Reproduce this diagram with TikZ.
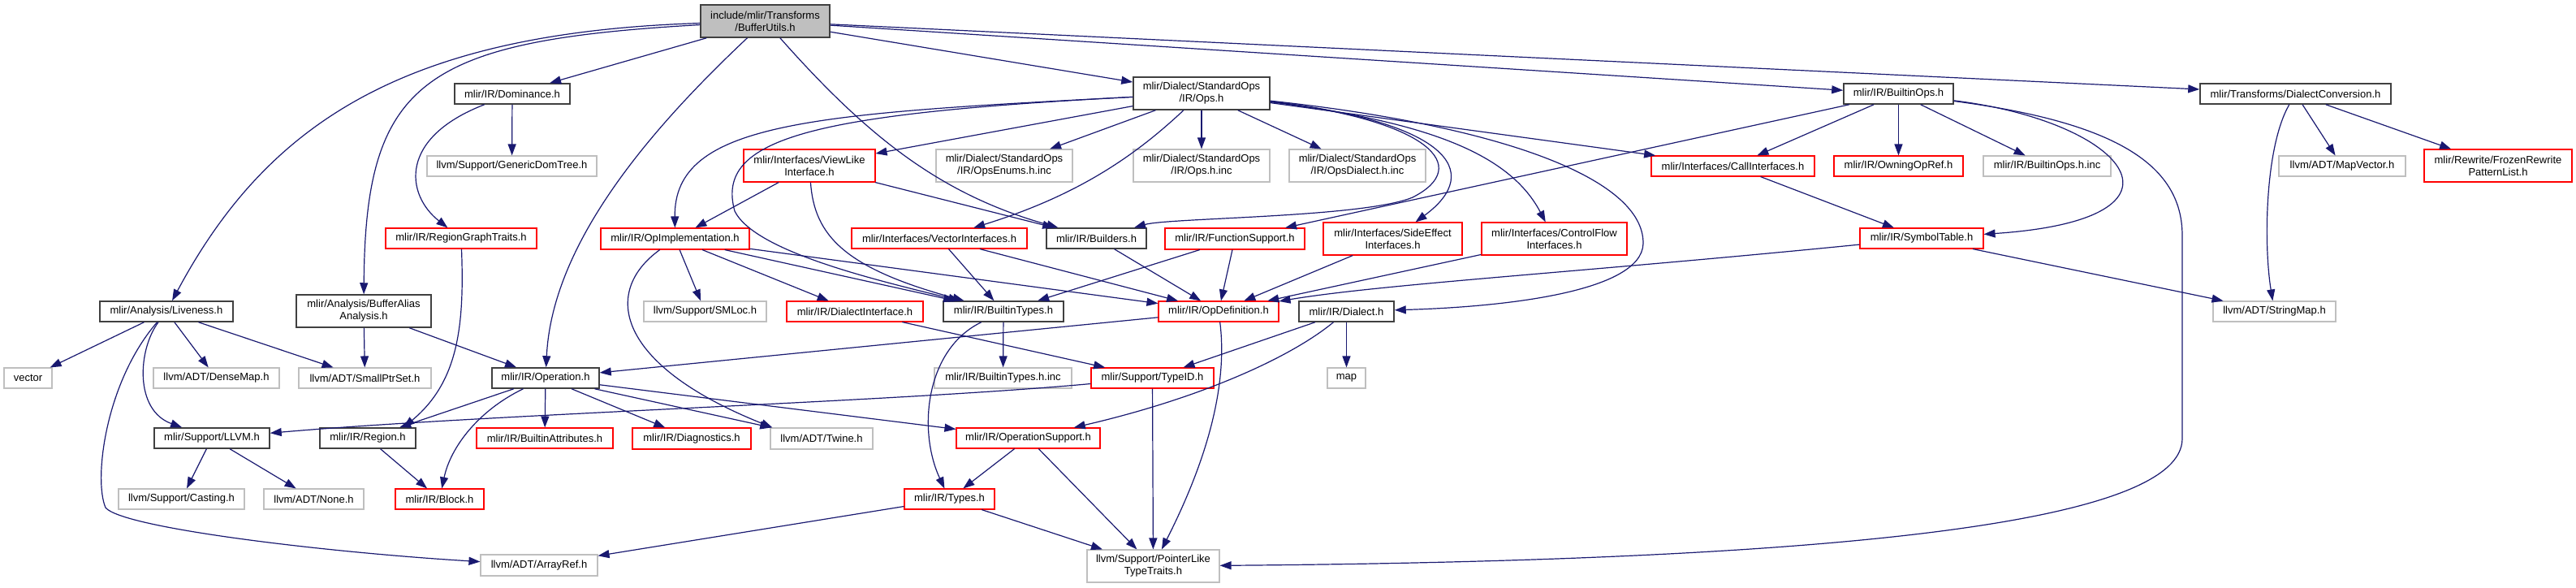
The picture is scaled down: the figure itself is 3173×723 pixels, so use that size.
\documentclass[tikz,border=0pt]{standalone}
\usepackage{fontspec}
\setmainfont{Liberation Sans}
\usepackage{tikz}
\usetikzlibrary{arrows.meta}
\definecolor{edgeblue}{RGB}{25,25,112}
\definecolor{boxgray}{RGB}{191,191,191}
\definecolor{boxblack}{RGB}{64,64,64}

\begin{document}
\begin{tikzpicture}[x=1pt,y=1pt]
\tikzstyle{every node}=[draw,shape=rectangle,inner sep=0pt,minimum height=25pt,align=center,font=\fontsize{13}{15}\selectfont];
\tikzstyle{blackbox}=[draw=boxblack,line width=1.5pt];
\tikzstyle{redbox}=[draw=red,line width=1.1pt];
\tikzstyle{graybox}=[draw=boxgray,line width=1.1pt];
\tikzstyle{dep}=[edgeblue,line width=1.2pt,-{Triangle[length=14pt,width=10pt]}];
\useasboundingbox (0,0) rectangle (3173,-723);

\node[blackbox,fill=boxgray,minimum width=159pt,minimum height=40pt](BU) at(942.5,-26){include/mlir/Transforms\\/BufferUtils.h};

\node[blackbox,minimum width=142pt](DOM) at(631,-115.5){mlir/IR/Dominance.h};
\node[graybox,minimum width=209pt](GDT) at(630.5,-204.5){llvm/Support/GenericDomTree.h};
\node[redbox,minimum width=186pt](RGT) at(568,-293.5){mlir/IR/RegionGraphTraits.h};
\node[blackbox,minimum width=164pt](LIV) at(205,-383.5){mlir/Analysis/Liveness.h};
\node[blackbox,minimum width=166pt,minimum height=40pt](BAA) at(448,-383){mlir/Analysis/BufferAlias\\Analysis.h};
\node[graybox,minimum width=59pt](VEC) at(34.5,-465.5){vector};
\node[graybox,minimum width=155pt](DM) at(266.5,-465.5){llvm/ADT/DenseMap.h};
\node[graybox,minimum width=163pt](SPS) at(449.5,-465.5){llvm/ADT/SmallPtrSet.h};
\node[blackbox,minimum width=132pt](OP) at(672,-465.5){mlir/IR/Operation.h};
\node[blackbox,minimum width=142pt](LLVM) at(261,-539.5){mlir/Support/LLVM.h};
\node[blackbox,minimum width=118pt](REG) at(453,-539.5){mlir/IR/Region.h};
\node[redbox,minimum width=168pt](BA) at(671,-539.5){mlir/IR/BuiltinAttributes.h};
\node[graybox,minimum width=155pt](CAST) at(223.5,-614.5){llvm/Support/Casting.h};
\node[graybox,minimum width=123pt](NONE) at(386.5,-614.5){llvm/ADT/None.h};
\node[redbox,minimum width=109pt](BLK) at(541.5,-614.5){mlir/IR/Block.h};
\node[graybox,minimum width=144pt,minimum height=26pt](AR) at(664,-696){llvm/ADT/ArrayRef.h};

\node[blackbox,minimum width=168pt,minimum height=40pt](OPS) at(1480,-115){mlir/Dialect/StandardOps\\/IR/Ops.h};
\node[redbox,minimum width=162pt,minimum height=40pt](VL) at(997,-204){mlir/Interfaces/ViewLike\\Interface.h};
\node[graybox,minimum width=168pt,minimum height=40pt](OE) at(1237,-204){mlir/Dialect/StandardOps\\/IR/OpsEnums.h.inc};
\node[graybox,minimum width=168pt,minimum height=40pt](OHI) at(1480,-204){mlir/Dialect/StandardOps\\/IR/Ops.h.inc};
\node[graybox,minimum width=168pt,minimum height=40pt](ODI) at(1672,-204){mlir/Dialect/StandardOps\\/IR/OpsDialect.h.inc};
\node[redbox,minimum width=183pt,minimum height=26pt](OI) at(831.5,-294){mlir/IR/OpImplementation.h};
\node[redbox,minimum width=216pt](VI) at(1157,-293.5){mlir/Interfaces/VectorInterfaces.h};
\node[blackbox,minimum width=123pt](BLD) at(1350.5,-293.5){mlir/IR/Builders.h};
\node[redbox,minimum width=172pt,minimum height=26pt](FS) at(1521,-294){mlir/IR/FunctionSupport.h};
\node[redbox,minimum width=171pt,minimum height=40pt](SE) at(1715.5,-294){mlir/Interfaces/SideEffect\\Interfaces.h};
\node[redbox,minimum width=179pt,minimum height=40pt](CF) at(1914.5,-294){mlir/Interfaces/ControlFlow\\Interfaces.h};
\node[redbox,minimum width=201pt](CI) at(2134.5,-204.5){mlir/Interfaces/CallInterfaces.h};

\node[blackbox,minimum width=135pt](BO) at(2338.5,-115.5){mlir/IR/BuiltinOps.h};
\node[redbox,minimum width=159pt](OOR) at(2338.5,-204.5){mlir/IR/OwningOpRef.h};
\node[graybox,minimum width=157pt](BOI) at(2521.5,-204.5){mlir/IR/BuiltinOps.h.inc};
\node[redbox,minimum width=152pt](ST) at(2367,-293.5){mlir/IR/SymbolTable.h};
\node[blackbox,minimum width=235pt](DC) at(2827.5,-115.5){mlir/Transforms/DialectConversion.h};
\node[graybox,minimum width=156pt](MV) at(2885,-204.5){llvm/ADT/MapVector.h};
\node[redbox,minimum width=182pt,minimum height=40pt](FRP) at(3077,-204){mlir/Rewrite/FrozenRewrite\\PatternList.h};
\node[graybox,minimum width=151pt](SM) at(2801.5,-383.5){llvm/ADT/StringMap.h};

\node[graybox,minimum width=151pt](SML) at(868.5,-383.5){llvm/Support/SMLoc.h};
\node[redbox,minimum width=168pt](DI) at(1053,-383.5){mlir/IR/DialectInterface.h};
\node[blackbox,minimum width=148pt](BT) at(1236,-383.5){mlir/IR/BuiltinTypes.h};
\node[redbox,minimum width=148pt](OD) at(1501,-383.5){mlir/IR/OpDefinition.h};
\node[blackbox,minimum width=117pt](DIA) at(1658.5,-383.5){mlir/IR/Dialect.h};
\node[graybox,minimum width=169pt](BTI) at(1235.5,-465.5){mlir/IR/BuiltinTypes.h.inc};
\node[redbox,minimum width=151pt](TID) at(1419.5,-465.5){mlir/Support/TypeID.h};
\node[graybox,minimum width=47pt](MAP) at(1658.5,-465.5){map};
\node[redbox,minimum width=146pt,minimum height=26pt](DIAG) at(852,-540){mlir/IR/Diagnostics.h};
\node[graybox,minimum width=126pt,minimum height=26pt](TW) at(1012,-540){llvm/ADT/Twine.h};
\node[redbox,minimum width=177pt](OS) at(1266.5,-539.5){mlir/IR/OperationSupport.h};
\node[redbox,minimum width=111pt](TY) at(1169.5,-614.5){mlir/IR/Types.h};
\node[graybox,minimum width=163pt,minimum height=40pt](PLT) at(1420.5,-697){llvm/Support/PointerLike\\TypeTraits.h};

% root
\draw[dep] (BU) -- (DOM);
\draw[dep] (BU) .. controls (500,-40) and (330,-150) .. (LIV);
\draw[dep] (BU) .. controls (520,-50) and (450,-100) .. (BAA);
\draw[dep] (BU) .. controls (800,-160) and (680,-300) .. (OP);
\draw[dep] (BU) .. controls (1070,-170) and (1160,-240) .. (BLD);
\draw[dep] (BU) -- (OPS);
\draw[dep] (BU) -- (BO);
\draw[dep] (BU) -- (DC);

% left part
\draw[dep] (DOM) -- (GDT);
\draw[dep] (DOM) .. controls (490,-170) and (500,-240) .. (RGT);
\draw[dep] (RGT) .. controls (572,-400) and (565,-470) .. ([xshift=44pt]REG.north);
\draw[dep] (LIV) -- (VEC);
\draw[dep] (LIV) -- (DM);
\draw[dep] (LIV) -- (SPS);
\draw[dep] (LIV) .. controls (170,-430) and (165,-505) .. (LLVM);
\draw[dep] (LIV) .. controls (130,-470) and (115,-590) .. (130,-625) .. controls (150,-650) and (400,-680) .. (AR);
\draw[dep] (BAA) -- (SPS);
\draw[dep] (BAA) -- (OP);
\draw[dep] (OP) -- (REG);
\draw[dep] (OP) .. controls (590,-505) and (555,-550) .. (BLK);
\draw[dep] (OP) -- (BA);
\draw[dep] (OP) -- (DIAG);
\draw[dep] (OP) -- (TW);
\draw[dep] (OP) -- (OS);
\draw[dep] (LLVM) -- (CAST);
\draw[dep] (LLVM) -- (NONE);
\draw[dep] (REG) -- (BLK);

% standard ops
\draw[dep] (OPS) -- (VL);
\draw[dep] (OPS) -- (OE);
\draw[dep] (OPS) -- (OHI);
\draw[dep] (OPS) -- (ODI);
\draw[dep] (OPS) .. controls (1400,-190) and (1330,-240) .. (VI);
\draw[dep] (OPS) .. controls (1000,-140) and (830,-150) .. (OI);
\draw[dep] (OPS) .. controls (1000,-140) and (880,-170) .. (905,-260) .. controls (930,-310) and (1080,-345) .. (BT);
\draw[dep] (OPS) -- (CI);
\draw[dep] (OPS) .. controls (1780,-150) and (1830,-210) .. (SE);
\draw[dep] (OPS) .. controls (1760,-150) and (1860,-190) .. (CF);
\draw[dep] (OPS) .. controls (1850,-155) and (2025,-220) .. (2024,-300) .. controls (2022,-360) and (1850,-378) .. (DIA);
\draw[dep] (OPS) .. controls (1760,-148) and (1815,-205) .. (1740,-243) .. controls (1680,-268) and (1440,-268) .. (BLD);

% builtin ops, conversion
\draw[dep] (BO) -- (FS);
\draw[dep] (BO) -- (CI);
\draw[dep] (BO) -- (OOR);
\draw[dep] (BO) -- (BOI);
\draw[dep] (BO) .. controls (2620,-150) and (2720,-270) .. (ST);
\draw[dep] (BO) .. controls (2600,-150) and (2688,-200) .. (2688,-290) -- (2688,-540) .. controls (2688,-640) and (2300,-690) .. (PLT);
\draw[dep] (CI) -- (ST);
\draw[dep] (ST) .. controls (1950,-335) and (1700,-350) .. (OD);
\draw[dep] (ST) -- (SM);
\draw[dep] (DC) .. controls (2790,-180) and (2788,-300) .. (SM);
\draw[dep] (DC) -- (MV);
\draw[dep] (DC) -- (FRP);

% interfaces
\draw[dep] (VL) -- (OI);
\draw[dep] (VL) .. controls (1003,-290) and (1040,-330) .. (BT);
\draw[dep] (VL) -- (BLD);
\draw[dep] (OI) .. controls (740,-360) and (760,-450) .. ([xshift=3pt]TW.north west);
\draw[dep] (OI) -- (SML);
\draw[dep] (OI) -- (DI);
\draw[dep] (OI) -- (BT);
\draw[dep] (OI) -- (OD);
\draw[dep] (VI) -- (BT);
\draw[dep] (VI) -- (OD);
\draw[dep] (BLD) -- (OD);
\draw[dep] (FS) -- (BT);
\draw[dep] (FS) -- (OD);
\draw[dep] (SE) -- (OD);
\draw[dep] (CF) -- (OD);

% lower part
\draw[dep] (OD) -- (OP);
\draw[dep] (OD) .. controls (1512,-470) and (1490,-560) .. (PLT);
\draw[dep] (DI) -- (TID);
\draw[dep] (BT) -- (BTI);
\draw[dep] (BT) .. controls (1140,-430) and (1130,-530) .. (TY);
\draw[dep] (TID) -- (PLT);
\draw[dep] (TID) .. controls (1100,-495) and (600,-510) .. (LLVM);
\draw[dep] (OS) -- (TY);
\draw[dep] (OS) -- (PLT);
\draw[dep] (TY) -- (PLT);
\draw[dep] (TY) -- (AR);
\draw[dep] (DIA) -- (MAP);
\draw[dep] (DIA) -- (TID);
\draw[dep] (DIA) .. controls (1590,-440) and (1480,-490) .. (OS);

\end{tikzpicture}
\end{document}
